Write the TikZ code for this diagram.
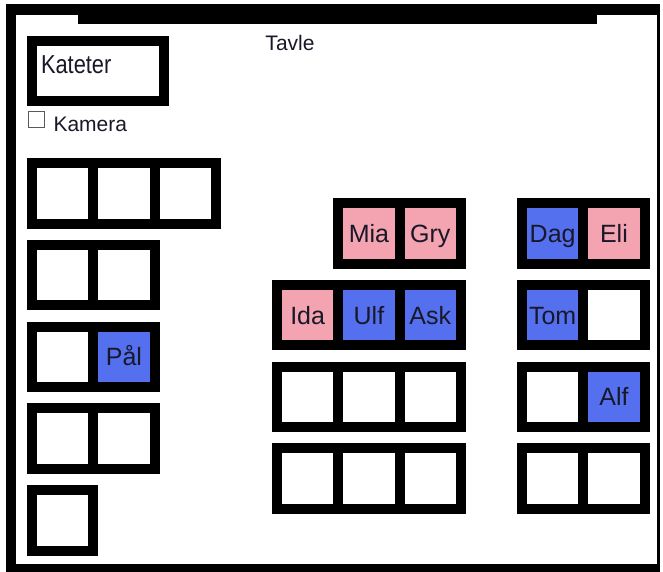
\documentclass[tikz,border=0pt]{standalone}
\usepackage{fontspec}
\setmainfont{Liberation Sans}
\newfontfamily\narrowsans{Liberation Sans}[FakeStretch=0.84]
\usepackage{xcolor}
\usetikzlibrary{positioning}
\definecolor{rosa}{RGB}{244,163,176}
\definecolor{blaa}{RGB}{84,112,238}
\definecolor{ink}{RGB}{24,24,40}

\begin{document}
\begin{tikzpicture}[
  x=1pt, y=-1pt,
  desk/.style={draw, line width=10pt, minimum width=61.3pt, minimum height=60.5pt, inner sep=0pt, outer sep=0pt, fill=white, text=ink, text height=18pt, text depth=0pt, font=\fontsize{25}{29}\selectfont},
  deskpink/.style={desk, fill=rosa},
  deskblue/.style={desk, fill=blaa},
  tekst/.style={inner sep=0pt, outer sep=0pt, text=ink, font=\fontsize{21}{25}\selectfont}
]
\useasboundingbox (0,0) rectangle (663,572);
% vegger og tavle
\fill (6,4) rectangle (660,572);
\fill[white] (16,15) rectangle (657,564);
\fill (78,15) rectangle (597,24);
\node[tekst] (tavle) at (290,43) {Tavle};

% kateter og kamera
\node[draw, line width=10pt, minimum width=131.5pt, minimum height=60.5pt, inner sep=0pt, outer sep=0pt] (kateter) at (97.75,71) {};
\node[tekst, font=\fontsize{26}{30}\narrowsans\selectfont, anchor=west, xshift=9pt, yshift=6pt] (katetertekst) at (kateter.west) {Kateter};
\node[draw=gray!70!black, line width=1pt, minimum size=16pt, inner sep=0pt, outer sep=0pt] (kamerabox) at (36.5,120) {};
\node[tekst, right=9pt of kamerabox, yshift=-4.5pt] (kamera) {Kamera};

% venstre rekke
\node[desk] (l1a) at (62.65,193.5) {};
\node[desk, right=0pt of l1a] (l1b) {};
\node[desk, right=0pt of l1b] (l1c) {};
\node[desk] (l2a) at (62.65,275.2) {};
\node[desk, right=0pt of l2a] (l2b) {};
\node[desk] (l3a) at (62.65,356.9) {};
\node[deskblue, right=0pt of l3a] (pal) {Pål};
\node[desk] (l4a) at (62.65,438.6) {};
\node[desk, right=0pt of l4a] (l4b) {};
\node[desk] (l5a) at (62.65,520.3) {};

% midtre rekke
\node[deskpink] (mia) at (368.95,233.5) {Mia};
\node[deskpink, right=0pt of mia] (gry) {Gry};
\node[deskpink] (ida) at (307.65,315.2) {Ida};
\node[deskblue, right=0pt of ida] (ulf) {Ulf};
\node[deskblue, right=0pt of ulf] (ask) {Ask};
\node[desk] (m3a) at (307.65,396.9) {};
\node[desk, right=0pt of m3a] (m3b) {};
\node[desk, right=0pt of m3b] (m3c) {};
\node[desk] (m4a) at (307.65,478.6) {};
\node[desk, right=0pt of m4a] (m4b) {};
\node[desk, right=0pt of m4b] (m4c) {};

% hoyre rekke
\node[deskblue] (dag) at (552.65,233.5) {Dag};
\node[deskpink, right=0pt of dag] (eli) {Eli};
\node[deskblue] (tom) at (552.65,315.2) {Tom};
\node[desk, right=0pt of tom] (r2b) {};
\node[desk] (r3a) at (552.65,396.9) {};
\node[deskblue, right=0pt of r3a] (alf) {Alf};
\node[desk] (r4a) at (552.65,478.6) {};
\node[desk, right=0pt of r4a] (r4b) {};
\end{tikzpicture}
\end{document}
